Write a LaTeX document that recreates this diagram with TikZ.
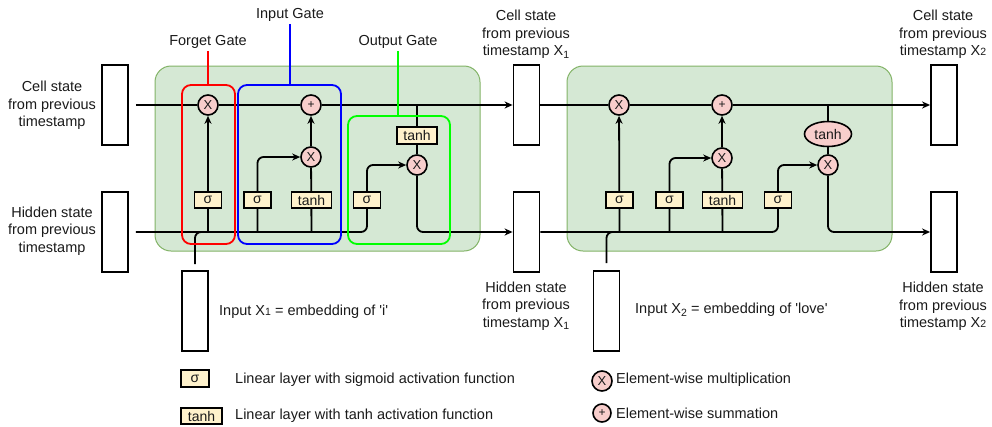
\documentclass[tikz,border=0pt]{standalone}
\usepackage{fontspec}
\newfontfamily\lab{Liberation Sans}
\usetikzlibrary{arrows.meta,shapes.geometric}
\definecolor{cellfill}{HTML}{D5E8D4}
\definecolor{cellline}{HTML}{82B366}
\definecolor{opfill}{HTML}{F8CECC}
\definecolor{layerfill}{HTML}{FFF2CC}
\definecolor{gatered}{HTML}{FF0000}
\definecolor{gateblue}{HTML}{0000FF}
\definecolor{gategreen}{HTML}{00FF00}
\definecolor{ink}{HTML}{1A1A1A}
\pgfdeclarelayer{cells}
\pgfdeclarelayer{wires}
\pgfsetlayers{cells,wires,main}
% small digit on the baseline, and a lowered subscript digit
\newcommand\smalldig[1]{{\fontsize{10.5}{10}\selectfont #1}}
\newcommand\lowdig[1]{\raisebox{-0.35ex}{\fontsize{10.5}{10}\selectfont #1}}
\begin{document}
\begin{tikzpicture}[x=1pt,y=-1pt,
  txt/.style={font=\lab\fontsize{14.5}{17.5}\selectfont, text=ink, inner sep=0pt},
  lbl/.style={txt, align=center},
  gatelbl/.style={txt, inner sep=2pt},
  cellbg/.style={draw=cellline, fill=cellfill, line width=1pt, rounded corners=16pt,
    minimum width=325pt, minimum height=185pt, inner sep=0pt},
  statebox/.style={draw=black, fill=white, line width=1.8pt, minimum width=26pt,
    minimum height=80pt, inner sep=0pt},
  gatebox/.style={line width=1.8pt, rounded corners=9pt, inner sep=0pt},
  sig/.style={draw=black, fill=layerfill, line width=1.6pt, minimum width=27pt,
    minimum height=16pt, inner sep=0pt, font=\lab\fontsize{14}{14}\selectfont, text=ink},
  tnh/.style={sig, minimum width=40pt},
  op/.style={circle, draw=black, fill=opfill, line width=1.6pt, minimum size=20pt,
    inner sep=0pt, font=\lab\fontsize{13}{13}\selectfont, text=ink},
  opplus/.style={op, font=\lab\fontsize{12}{12}\selectfont},
  wire/.style={draw=black, line width=1.8pt, rounded corners=6pt},
  arr/.style={wire, -{Stealth[length=8pt,width=7pt,inset=2.5pt]}}
]
\useasboundingbox (0,0) rectangle (992,426);

% LSTM cell backgrounds
\begin{pgfonlayer}{cells}
\node[cellbg] (cell1) at (317.5,158.5) {};
\node[cellbg] (cell2) at (729.5,158.5) {};
\end{pgfonlayer}

% gate outlines and their labels
\node[gatebox, draw=gatered, minimum width=53pt, minimum height=159pt] (fgate) at (208.5,164.5) {};
\node[gatebox, draw=gateblue, minimum width=103pt, minimum height=159pt] (igate) at (289.5,164.5) {};
\node[gatebox, draw=gategreen, minimum width=102pt, minimum height=128pt] (ogate) at (399,180) {};
\node[gatelbl] (fgatelbl) at (208,42) {Forget Gate};
\node[gatelbl] (igatelbl) at (290,15) {Input Gate};
\node[gatelbl] (ogatelbl) at (398,42) {Output Gate};
\draw[gatered, line width=1.8pt] (fgatelbl.south) -- (fgatelbl.south |- fgate.north);
\draw[gateblue, line width=1.8pt] (igatelbl.south) -- (igatelbl.south |- igate.north);
\draw[gategreen, line width=1.8pt] (ogatelbl.south) -- (ogatelbl.south |- ogate.north);

% state vectors
\node[statebox] (cin1) at (115,105) {};
\node[statebox] (hin1) at (115,232) {};
\node[statebox] (cout1) at (526.5,105) {};
\node[statebox] (hout1) at (526.5,232) {};
\node[statebox] (cout2) at (944,105) {};
\node[statebox] (hout2) at (944,232) {};
\node[statebox] (xin1) at (195,311) {};
\node[statebox] (xin2) at (606.5,311) {};

% state labels
\node[lbl] (cin1lbl) at (52,105.5) {Cell state\\from previous\\timestamp};
\node[lbl] (hin1lbl) at (52,231) {Hidden state\\from previous\\timestamp};
\node[lbl] (cout1lbl) at (526,34.5) {Cell state\\from previous\\timestamp X\lowdig{1}};
\node[lbl] (hout1lbl) at (526,306) {Hidden state\\from previous\\timestamp X\lowdig{1}};
\node[lbl] (cout2lbl) at (943,34.5) {Cell state\\from previous\\timestamp X\smalldig{2}};
\node[lbl] (hout2lbl) at (943,306.5) {Hidden state\\from previous\\timestamp X\smalldig{2}};
\node[txt, anchor=west] (xin1lbl) at (219,312) {Input X\smalldig{1} = embedding of 'i'};
\node[txt, anchor=west] (xin2lbl) at (635,310) {Input X\lowdig{2} = embedding of 'love'};

% first cell
\node[op] (f1) at (208,105) {X};
\node[opplus] (p1) at (311,105) {+};
\node[op] (i1) at (311,157) {X};
\node[op] (o1) at (417,165) {X};
\node[tnh, minimum height=17pt] (ot1) at (417,135.5) {tanh};
\node[sig] (sf1) at (208,200) {σ};
\node[sig] (si1) at (257.5,200) {σ};
\node[tnh] (ti1) at (311.5,200) {tanh};
\node[sig] (so1) at (367,200) {σ};

% second cell
\node[op] (f2) at (619,105) {X};
\node[opplus] (p2) at (722,105) {+};
\node[op] (i2) at (722,158) {X};
\node[op] (o2) at (828,165) {X};
\node[ellipse, draw=black, fill=opfill, line width=1.6pt, minimum width=47pt, minimum height=25pt,
  inner sep=0pt, font=\lab\fontsize{14}{14}\selectfont, text=ink] (ot2) at (828,134) {tanh};
\node[sig] (sf2) at (619.5,200) {σ};
\node[sig] (si2) at (669.5,200) {σ};
\node[tnh] (ti2) at (722.5,200) {tanh};
\node[sig] (so2) at (778,200) {σ};

% connectors, kept beneath the boxes
\begin{pgfonlayer}{wires}
% cell 1
\draw[wire, shorten <=7pt] (cin1) -- (f1);
\draw[wire] (f1) -- (p1);
\draw[arr] (p1) -- (cout1);
\draw[wire, shorten <=7pt] (hin1) -- (so1.south |- hin1.east) -- (so1.center);
\draw[wire, shorten <=6pt] (xin1) |- (sf1.south |- hin1.east);
\draw[arr] (sf1.center |- hin1.east) -- (f1);
\draw[arr] (si1.center |- hin1.east) |- (i1);
\draw[wire] (ti1.center |- hin1.east) -- (i1);
\draw[arr] (i1) -- (p1);
\draw[wire] (ot1.center |- f1.center) -- (o1);
\draw[arr] (so1) |- (o1);
\draw[arr] (o1) |- (hout1);
% cell 2
\draw[wire] (cout1) -- (f2);
\draw[wire] (f2) -- (p2);
\draw[arr] (p2) -- (cout2);
\draw[wire] (hout1) -- (so2.south |- hout1.east) -- (so2.center);
\draw[wire, shorten <=7pt] (xin2) |- (sf2.south |- hout1.east);
\draw[arr] (sf2.center |- hout1.east) -- (f2);
\draw[arr] (si2.center |- hout1.east) |- (i2);
\draw[wire] (ti2.center |- hout1.east) -- (i2);
\draw[arr] (i2) -- (p2);
\draw[wire] (ot2.center |- f2.center) -- (o2);
\draw[arr] (so2) |- (o2);
\draw[arr] (o2) |- (hout2);
\end{pgfonlayer}

% legend
\node[sig, minimum width=28pt, minimum height=17pt] (legsig) at (195,378.5) {σ};
\node[txt, anchor=west] (legsiglbl) at (235,380) {Linear layer with sigmoid activation function};
\node[tnh, minimum width=41pt] (legtanh) at (201.5,416) {tanh};
\node[txt, anchor=west] (legtanhlbl) at (235,416) {Linear layer with tanh activation function};
\node[op] (legmul) at (602,381) {X};
\node[txt, anchor=west] (legmullbl) at (616,380) {Element-wise multiplication};
\node[opplus, minimum size=18pt] (legsum) at (602,413) {+};
\node[txt, anchor=west] (legsumlbl) at (616,413) {Element-wise summation};
\end{tikzpicture}
\end{document}
